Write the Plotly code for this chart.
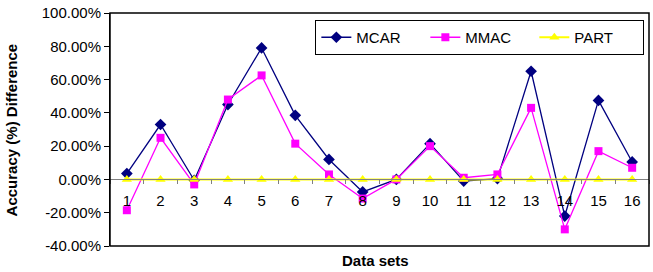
import plotly.graph_objects as go

datasets = [str(i) for i in range(1, 17)]
mcar = [3.5, 33.0, -0.5, 45.0, 79.0, 38.5, 12.0, -7.5, 0.0, 21.5, -1.0, 0.5, 65.0, -22.0, 47.5, 10.5]
mmac = [-18.5, 25.0, -3.0, 48.0, 62.5, 21.5, 3.0, -11.5, 0.0, 20.0, 1.0, 3.0, 43.0, -30.0, 17.0, 7.0]
part = [0.0] * 16

y_tickvals = [-40, -20, 0, 20, 40, 60, 80, 100]
y_ticktext = ["-40.00%", "-20.00%", "0.00%", "20.00%", "40.00%", "60.00%", "80.00%", "100.00%"]

ymin, ymax = -40, 100

fig = go.Figure()
fig.add_trace(go.Scatter(x=datasets, y=mcar, name="MCAR", mode="lines+markers",
                         line=dict(color="#000080", width=1.3),
                         marker=dict(symbol="diamond", size=9, color="#000080")))
fig.add_trace(go.Scatter(x=datasets, y=mmac, name="MMAC", mode="lines+markers",
                         line=dict(color="#FF00FF", width=1.3),
                         marker=dict(symbol="square", size=8, color="#FF00FF")))
fig.add_trace(go.Scatter(x=datasets, y=part, name="PART", mode="lines+markers",
                         line=dict(color="#FFFF00", width=2),
                         marker=dict(symbol="triangle-up", size=9, color="#FFFF00")))

font = "Liberation Sans, Arial, sans-serif"
fig.update_layout(
    width=653, height=272,
    margin=dict(l=110, r=4, t=7, b=26),
    paper_bgcolor="white", plot_bgcolor="white",
    font=dict(family=font, size=15, color="black"),
    showlegend=True,
    legend=dict(orientation="h", x=0.381, y=0.97, xanchor="left", yanchor="top",
                bordercolor="black", borderwidth=1, bgcolor="white",
                font=dict(size=15), entrywidth=64, itemwidth=30),
    xaxis=dict(type="category", anchor="free", position=(0 - ymin) / (ymax - ymin),
               showline=True, linecolor="#808080", linewidth=1,
               ticks="outside", tickson="boundaries", ticklen=4, tickcolor="#808080",
               showgrid=False, zeroline=False, tickfont=dict(size=15),
               ticklabelstandoff=8,
               range=[-0.5, 15.5]),
    yaxis=dict(range=[ymin, ymax], tickvals=y_tickvals, ticktext=y_ticktext,
               showline=True, linecolor="black", linewidth=1,
               ticks="outside", ticklen=5, tickcolor="black",
               ticklabeloverflow="allow",
               showgrid=False, zeroline=False, tickfont=dict(size=15)),
    shapes=[dict(type="rect", xref="paper", yref="paper", x0=0, x1=1, y0=0, y1=1,
                 line=dict(color="black", width=1.5), layer="above")],
    annotations=[
        dict(text="<b>Data sets</b>", xref="paper", yref="paper", x=0.492, y=-0.108,
             xanchor="center", yanchor="bottom", showarrow=False, font=dict(size=15)),
        dict(text="<b>Accuracy (%) Difference</b>", xref="paper", yref="paper",
             x=-0.182, y=0.5, textangle=-90, xanchor="center", yanchor="middle",
             showarrow=False, font=dict(size=15)),
    ],
)

fig.write_html("out.html")
